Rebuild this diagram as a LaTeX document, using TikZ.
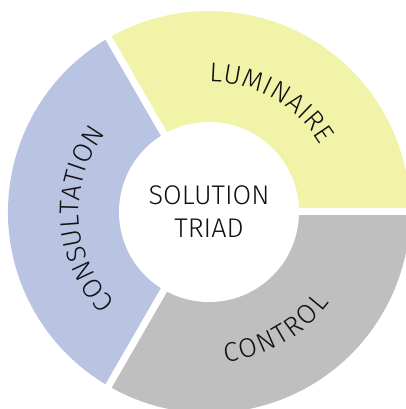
\documentclass[tikz,border=0pt]{standalone}
\usepackage{fontspec}
\setmainfont{Fira Sans}
\IfFontExistsTF{Fira Sans Book}{\newfontfamily\ringfont{Fira Sans Book}}{\IfFontExistsTF{Fira Sans Light}{\newfontfamily\ringfont{Fira Sans Light}}{\newfontfamily\ringfont{Fira Sans}}}
\usetikzlibrary{decorations.text}
\definecolor{lumi}{RGB}{241,244,168}
\definecolor{cons}{RGB}{184,196,226}
\definecolor{ctrl}{RGB}{191,191,191}
\definecolor{txt}{RGB}{17,17,17}
\begin{document}
\begin{tikzpicture}[x=1pt,y=1pt,
  gapline/.style={white, line width=7pt},
  centertext/.style={font=\ringfont\fontsize{27}{31}\selectfont, text=txt, anchor=base, inner sep=0pt},
  ringtext/.style={decorate, decoration={text effects along path, text={#1},
     text effects/.cd, text along path, fit text to path,
     characters={font=\ringfont\fontsize{27}{31}\selectfont, text=txt}}}]
\useasboundingbox (0,0) rectangle (406,409);
\clip (0,0) rectangle (406,409);
\begin{scope}[shift={(209,197)}]
  \coordinate (c) at (0,0);
  \fill[lumi] (c) -- (0:201pt) arc[start angle=0, end angle=120, radius=201pt] -- cycle;
  \fill[cons] (c) -- (120:201pt) arc[start angle=120, end angle=240, radius=201pt] -- cycle;
  \fill[ctrl] (c) -- (240:201pt) arc[start angle=240, end angle=360, radius=201pt] -- cycle;
  \coordinate (g1) at (0:215pt);
  \coordinate (g2) at (120:215pt);
  \coordinate (g3) at (240:215pt);
  \draw[gapline] (c) -- (g1);
  \draw[gapline] (c) -- (g2);
  \draw[gapline] (c) -- (g3);
  \fill[white] (c) circle[radius=90pt];
  \node[centertext] (sol) at (0,7) {SOLUTION};
  \node[centertext] (tri) at (0,-26) {TRIAD};
  \path[ringtext={LUMINAIRE}] (90:130pt) arc[start angle=90, end angle=31, radius=130pt];
  \path[ringtext={CONSULTATION}] (224:130pt) arc[start angle=224, end angle=143, radius=130pt];
  \path[ringtext={CONTROL}] (276:151pt) arc[start angle=276, end angle=323, radius=151pt];
\end{scope}
\end{tikzpicture}
\end{document}
